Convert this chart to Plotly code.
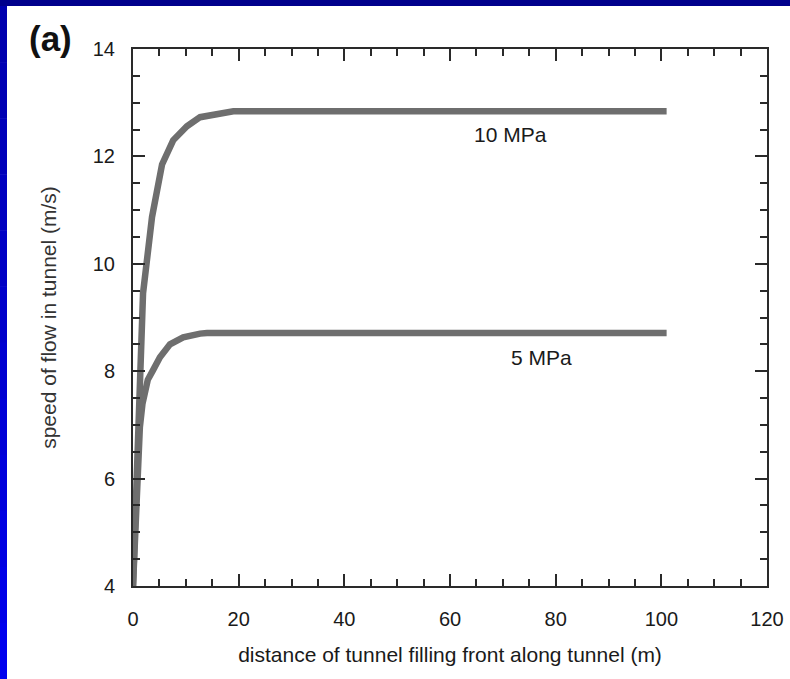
import plotly.graph_objects as go

# Data
dist_10mpa = [0, 0.9, 1.9, 3.6, 5.5, 7.6, 10.2, 12.7, 15.5, 19.0, 101]
speed_10mpa = [4.0, 7.0, 9.45, 10.87, 11.85, 12.3, 12.56, 12.73, 12.79, 12.84, 12.84]

dist_5mpa = [0, 0.7, 1.3, 1.8, 2.3, 2.8, 3.8, 5.1, 7.0, 9.5, 12.7, 14.0, 101]
speed_5mpa = [4.0, 5.7, 6.96, 7.4, 7.6, 7.84, 8.02, 8.26, 8.5, 8.63, 8.7, 8.71, 8.71]

curve_labels = ["10 MPa", "5 MPa"]
label_x = [71.4, 77.4]
label_y = [12.40, 8.26]

x_title = "distance of tunnel filling front along tunnel (m)"
y_title = "speed of flow in tunnel (m/s)"
panel_label = "(a)"

FONT = "Liberation Sans, Arial, Helvetica, sans-serif"
LINE_COLOR = "#6e6e6e"
AXIS_COLOR = "#2a2a2a"

W, H = 790, 679
ml, mr, mt, mb = 133, 23, 49, 93
pw, ph = W - ml - mr, H - mt - mb


def px_x(p):
    return (p - ml) / pw


def px_y(p):
    return (H - mb - p) / ph


fig = go.Figure()
fig.add_trace(go.Scatter(x=dist_10mpa, y=speed_10mpa, mode="lines",
                         line=dict(color=LINE_COLOR, width=6.5), showlegend=False))
fig.add_trace(go.Scatter(x=dist_5mpa, y=speed_5mpa, mode="lines",
                         line=dict(color=LINE_COLOR, width=6.5), showlegend=False))

for t, xx, yy in zip(curve_labels, label_x, label_y):
    fig.add_annotation(x=xx, y=yy, text=t, showarrow=False,
                       font=dict(family=FONT, size=21, color="#1a1a1a"))

fig.add_annotation(xref="paper", yref="paper", x=px_x(50), y=px_y(39),
                   text="<b>" + panel_label + "</b>",
                   showarrow=False, xanchor="center", yanchor="middle",
                   font=dict(family=FONT, size=35, color="#111111"))

# Blue frame strips (top and left), as in the reference slide
fig.add_shape(type="rect", xref="paper", yref="paper", x0=px_x(0), x1=px_x(W), y0=px_y(6), y1=px_y(0),
              line=dict(width=0), fillcolor="#00008c", layer="above")
n = 12
for i in range(n):
    y0p = 6 + (H - 6) * i / n
    y1p = 6 + (H - 6) * (i + 1) / n
    frac = i / (n - 1)
    b = int(175 + (238 - 175) * frac)
    fig.add_shape(type="rect", xref="paper", yref="paper", x0=px_x(0), x1=px_x(7),
                  y0=px_y(y1p + 0.5), y1=px_y(y0p), line=dict(width=0),
                  fillcolor=f"rgb(0,0,{b})", layer="above")

axis_common = dict(
    showgrid=False, zeroline=False, showline=True, linecolor=AXIS_COLOR, linewidth=2,
    mirror="ticks", ticks="inside", ticklen=12, tickwidth=2, tickcolor=AXIS_COLOR,
    tickfont=dict(family=FONT, size=20, color="#1a1a1a"),
)

fig.update_xaxes(range=[0, 120], tickmode="linear", tick0=0, dtick=20,
                 minor=dict(ticks="inside", ticklen=7, tickwidth=2, tickcolor=AXIS_COLOR, dtick=5, tick0=0),
                 ticklabelstandoff=14,
                 title=dict(text=x_title, standoff=18, font=dict(family=FONT, size=21, color="#1a1a1a")),
                 **axis_common)
fig.update_yaxes(range=[4, 14], tickmode="linear", tick0=4, dtick=2,
                 minor=dict(ticks="inside", ticklen=7, tickwidth=2, tickcolor=AXIS_COLOR, dtick=0.5, tick0=4),
                 ticklabelstandoff=12,
                 title=dict(text=y_title, standoff=30, font=dict(family=FONT, size=21, color="#333333")),
                 **axis_common)

fig.update_layout(
    width=W, height=H,
    margin=dict(l=ml, r=mr, t=mt, b=mb, autoexpand=False),
    paper_bgcolor="white", plot_bgcolor="white",
    showlegend=False,
)

fig.write_html("out.html", config={"displayModeBar": False},
               post_script="document.body.style.margin='0';document.body.style.overflow='hidden';")
